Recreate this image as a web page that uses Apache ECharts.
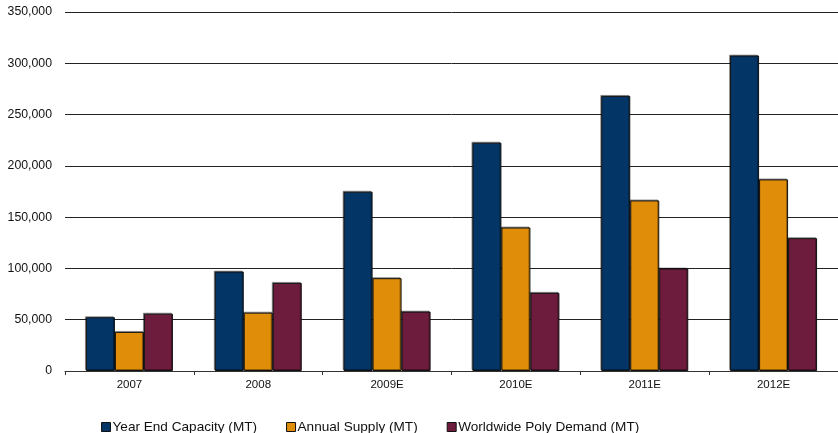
<!DOCTYPE html>
<html>
<head>
<meta charset="utf-8">
<script src="https://cdn.jsdelivr.net/npm/echarts@6/dist/echarts.min.js"></script>
<style>
  html, body { margin: 0; padding: 0; background: #fff; }
  #chart { width: 838px; height: 433px; }
</style>
</head>
<body>
<div id="chart"></div>
<script>
// Polysilicon capacity vs. supply vs. demand, metric tonnes
var years = ['2007', '2008', '2009E', '2010E', '2011E', '2012E'];
var capacity = [52400, 96900, 174800, 222600, 268200, 307500];
var supply = [38100, 56900, 90500, 139900, 166300, 186800];
var demand = [55900, 85900, 57900, 76200, 99900, 129500];
var seriesNames = ['Year End Capacity (MT)', 'Annual Supply (MT)', 'Worldwide Poly Demand (MT)'];
var colors = ['#033667', '#E08D0A', '#6E1C3D'];

var font = 'Liberation Sans, Arial, sans-serif';

function barSeries(name, data, color) {
  return {
    name: name,
    type: 'bar',
    data: data,
    barWidth: 29,
    barGap: '0%',
    itemStyle: {
      color: color,
      borderColor: '#111',
      borderWidth: 1,
      shadowColor: 'rgba(0,0,0,0.35)',
      shadowBlur: 0,
      shadowOffsetX: -1,
      shadowOffsetY: -1
    }
  };
}

var chart = echarts.init(document.getElementById('chart'), null, { renderer: 'canvas' });
chart.setOption({
  animation: false,
  backgroundColor: '#fff',
  color: colors,
  grid: { left: 65, top: 12, width: 777, height: 359, containLabel: false },
  legend: {
    top: 415,
    left: 96,
    itemWidth: 9,
    itemHeight: 9,
    itemGap: 29,
    icon: 'rect',
    textStyle: { fontFamily: font, fontSize: 13.6, color: '#111', padding: [0, 0, 0, -3] },
    itemStyle: { borderColor: '#111', borderWidth: 1 },
    data: seriesNames
  },
  xAxis: {
    type: 'category',
    data: years,
    axisLine: { show: true, lineStyle: { color: '#333', width: 1 } },
    axisTick: { show: true, length: 4, lineStyle: { color: '#333' } },
    axisLabel: { fontFamily: font, fontSize: 11.5, color: '#111', margin: 8 }
  },
  yAxis: {
    type: 'value',
    min: 0,
    max: 350000,
    interval: 50000,
    axisLine: { show: false },
    axisTick: { show: false },
    splitLine: { show: true, lineStyle: { color: '#222', width: 1 } },
    axisLabel: {
      fontFamily: font, fontSize: 12.3, color: '#111', margin: 13,
      formatter: function (v) { return v.toLocaleString('en-US'); }
    }
  },
  series: [
    barSeries(seriesNames[0], capacity, colors[0]),
    barSeries(seriesNames[1], supply, colors[1]),
    barSeries(seriesNames[2], demand, colors[2])
  ]
});
</script>
</body>
</html>
